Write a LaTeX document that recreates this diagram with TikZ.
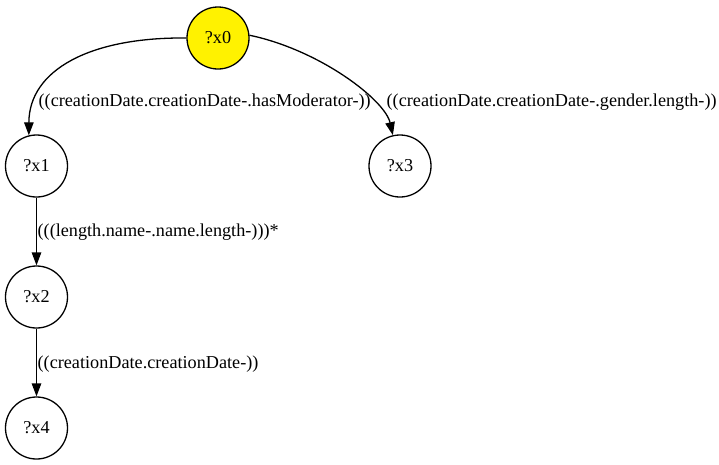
\documentclass[tikz,border=0pt]{standalone}
\usepackage{fontspec}
\setmainfont{Liberation Serif}
\usetikzlibrary{arrows.meta}

\begin{document}
\begin{tikzpicture}[x=1pt, y=-1pt, font=\fontsize{18.2}{21}\selectfont, line width=1.3pt,
		var/.style={draw, circle, minimum size=62pt, inner sep=0pt},
		edge/.style={-{Triangle[length=13pt, width=9.5pt]}},
		elabel/.style={anchor=base west, inner sep=0pt}]
		\useasboundingbox (0,0) rectangle (719,464);

		\node[var, fill=yellow] (x0) at (218,38) {?x0};
		\node[var] (x1) at (36.5,166) {?x1};
		\node[var] (x3) at (400,166) {?x3};
		\node[var] (x2) at (36.5,297) {?x2};
		\node[var] (x4) at (36.5,428) {?x4};

		\draw[edge] (x0.west) .. controls (90,37) and (29,70) .. (x1.104);
		\draw[edge] (x0.5) .. controls (320,50) and (385,100) .. (x3.103);
		\draw[edge] (x1) -- (x2);
		\draw[edge] (x2) -- (x4);

		\node[elabel] (l01) at (38,106) {((creationDate.creationDate-.hasModerator-))};
		\node[elabel] (l03) at (386,106) {((creationDate.creationDate-.gender.length-))};
		\node[elabel] (l12) at (37,236) {(((length.name-.name.length-)))*};
		\node[elabel] (l24) at (37,368) {((creationDate.creationDate-))};
	\end{tikzpicture}
\end{document}
